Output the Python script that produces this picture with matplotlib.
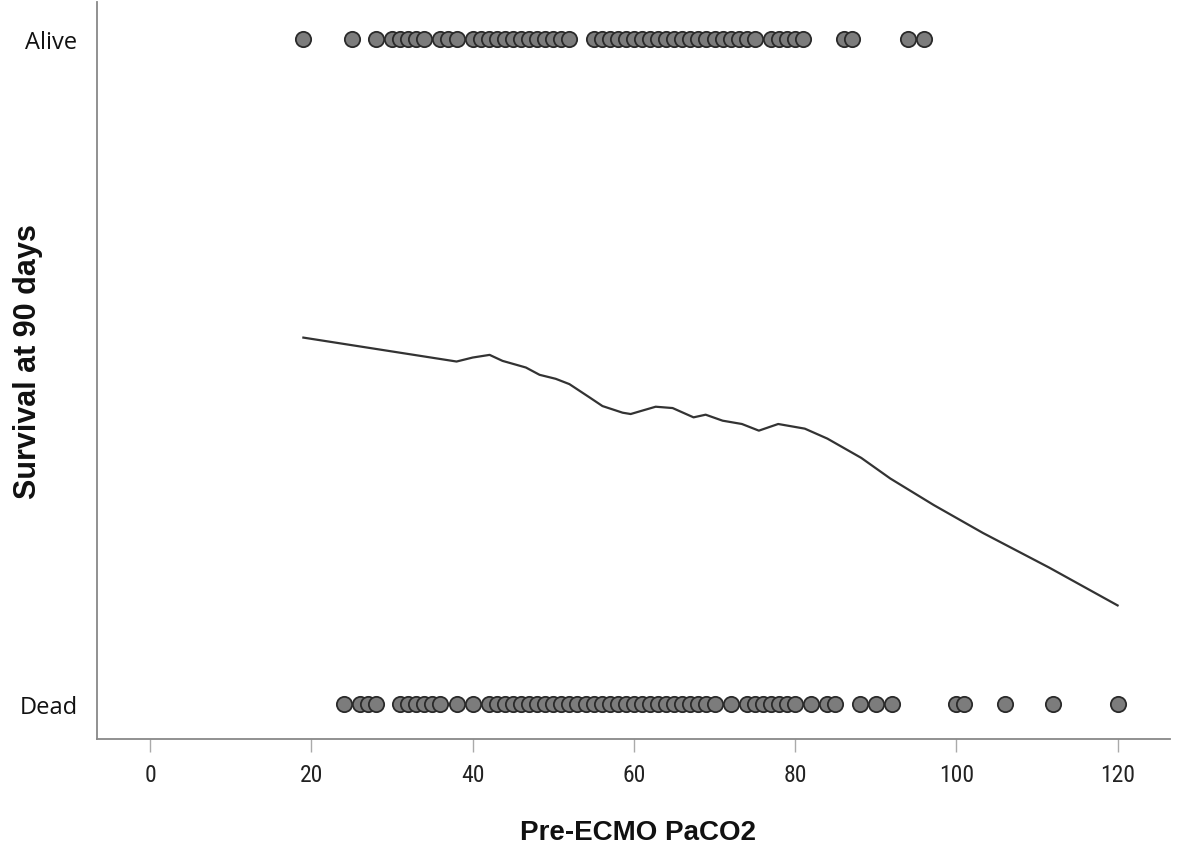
import matplotlib
matplotlib.use("Agg")
import matplotlib.pyplot as plt
from matplotlib import font_manager

# ---- data ----
alive_paco2 = [19, 25, 28, 30, 31, 32, 33, 34, 36, 37, 38, 40, 41, 42, 43, 44, 45, 46,
               47, 48, 49, 50, 51, 52, 55, 56, 57, 58, 59, 60, 61, 62, 63, 64, 65, 66,
               67, 68, 69, 70, 71, 72, 73, 74, 75, 77, 78, 79, 80, 81, 86, 87, 94, 96]
dead_paco2 = [24, 26, 27, 28, 31, 32, 33, 34, 35, 36, 38, 40, 42, 43, 44, 45, 46, 47, 48,
              49, 50, 51, 52, 53, 54, 55, 56, 57, 58, 59, 60, 61, 62, 63, 64, 65, 66, 67,
              68, 69, 70, 72, 74, 75, 76, 77, 78, 79, 80, 82, 84, 85, 88, 90, 92, 100,
              101, 106, 112, 120]
fit_x = [19.0, 38.0, 40.0, 42.1, 43.7, 46.6, 48.3, 50.3, 52.0, 54.5, 56.1, 58.6, 59.6,
         61.0, 62.7, 64.8, 67.4, 68.9, 71.0, 73.4, 75.5, 77.9, 81.2, 84.0, 88.2, 91.8,
         97.2, 103.3, 111.5, 120.0]
fit_y = [0.551, 0.515, 0.521, 0.525, 0.516, 0.506, 0.495, 0.489, 0.481, 0.461, 0.448,
         0.438, 0.436, 0.441, 0.447, 0.445, 0.431, 0.435, 0.426, 0.421, 0.411, 0.421,
         0.414, 0.399, 0.370, 0.339, 0.299, 0.257, 0.205, 0.148]
x_ticks = [0, 20, 40, 60, 80, 100, 120]
y_labels = ["Dead", "Alive"]

available = {f.name for f in font_manager.fontManager.ttflist}
def pick(*names):
    for n in names:
        if n in available:
            return n
    return "DejaVu Sans"

narrow = pick("Liberation Sans Narrow", "Arial Narrow", "Roboto Condensed", "Liberation Sans")
arial = pick("Liberation Sans", "Arial", "DejaVu Sans")
humanist = pick("Open Sans", "Lato", "Noto Sans", "DejaVu Sans")

W, H = 1178, 853
fig = plt.figure(figsize=(W / 100, H / 100), dpi=100)
ax = fig.add_axes([97 / W, 1 - 740 / H, (1170 - 97) / W, (740 - 3) / H])

mk = dict(marker="o", linestyle="none", markersize=11, markerfacecolor="#7c7c7c",
          markeredgecolor="#2a2a2a", markeredgewidth=1.3)
ax.plot(alive_paco2, [1] * len(alive_paco2), **mk)
ax.plot(dead_paco2, [0] * len(dead_paco2), **mk)
ax.plot(fit_x, fit_y, color="#333333", linewidth=1.6)

ax.set_xlim(-6.6, 126.5)
ax.set_ylim(-0.053, 1.056)

ax.set_xticks(x_ticks)
ax.set_xticklabels([str(t) for t in x_ticks], fontfamily=narrow, fontsize=17, color="#222222")
ax.set_yticks([0, 1])
ax.set_yticklabels(y_labels, fontfamily=humanist, fontsize=17, color="#111111")

ax.tick_params(axis="x", length=9, width=1, color="#aaaaaa", pad=8)
ax.tick_params(axis="y", length=0, pad=14)

for s in ["top", "right"]:
    ax.spines[s].set_visible(False)
for s in ["left", "bottom"]:
    ax.spines[s].set_color("#888888")
    ax.spines[s].set_linewidth(1.3)

fig.text(638 / W, 1 - 833 / H, "Pre-ECMO PaCO2", fontfamily=arial, fontweight="bold",
         fontsize=20, color="#111111", ha="center", va="center")
fig.text(28 / W, 1 - 362 / H, "Survival at 90 days", fontfamily=arial, fontweight="bold",
         fontsize=22, color="#111111", ha="center", va="center", rotation=90)

fig.savefig("out.png", dpi=100, facecolor="white")
